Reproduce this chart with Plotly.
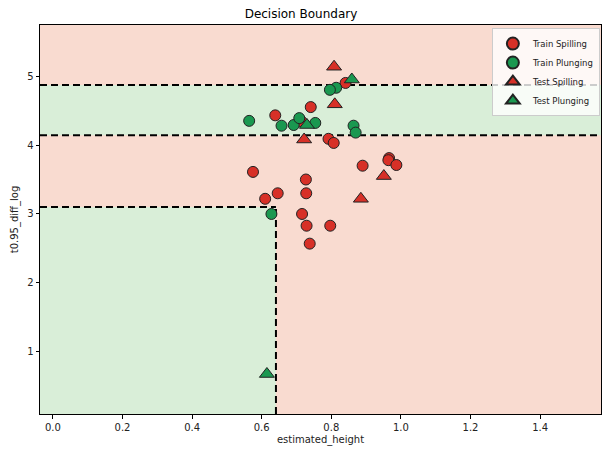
import plotly.graph_objects as go

# Data
train_spill_x = [0.841, 0.741, 0.639, 0.715, 0.792, 0.807, 0.966, 0.964, 0.987, 0.890, 0.575, 0.727, 0.646, 0.728, 0.610, 0.716, 0.729, 0.797, 0.738]
train_spill_y = [4.90, 4.55, 4.43, 4.34, 4.09, 4.03, 3.81, 3.78, 3.71, 3.70, 3.61, 3.50, 3.30, 3.30, 3.22, 3.00, 2.83, 2.83, 2.57]
train_plunge_x = [0.814, 0.796, 0.564, 0.657, 0.692, 0.708, 0.754, 0.864, 0.870, 0.628]
train_plunge_y = [4.83, 4.80, 4.35, 4.28, 4.29, 4.39, 4.32, 4.28, 4.18, 3.00]
test_spill_x = [0.808, 0.810, 0.722, 0.951, 0.885]
test_spill_y = [5.135, 4.59, 4.08, 3.55, 3.22]
test_plunge_x = [0.859, 0.730, 0.615]
test_plunge_y = [4.95, 4.29, 0.68]

# Decision thresholds
y_upper = 4.87
y_mid = 4.14
y_low = 3.10
x_split = 0.641

x_range = [-0.037, 1.575]
y_range = [0.10, 5.74]

RED = "#d73027"
GREEN = "#1a9850"
RED_BG = "#f9dbd0"
GREEN_BG = "#d9eed8"

fig = go.Figure()

shapes = []
# background regions
shapes.append(dict(type="rect", xref="x", yref="y", x0=x_range[0], x1=x_range[1], y0=y_range[0], y1=y_range[1],
                   fillcolor=RED_BG, line_width=0, layer="below"))
shapes.append(dict(type="rect", xref="x", yref="y", x0=x_range[0], x1=x_range[1], y0=y_mid, y1=y_upper,
                   fillcolor=GREEN_BG, line_width=0, layer="below"))
shapes.append(dict(type="rect", xref="x", yref="y", x0=x_range[0], x1=x_split, y0=y_range[0], y1=y_low,
                   fillcolor=GREEN_BG, line_width=0, layer="below"))
# dashed boundaries
dash = dict(color="black", width=2, dash="7px,4px")
shapes.append(dict(type="line", xref="x", yref="y", x0=x_range[0], x1=x_range[1], y0=y_upper, y1=y_upper, line=dash, layer="below"))
shapes.append(dict(type="line", xref="x", yref="y", x0=x_range[0], x1=x_range[1], y0=y_mid, y1=y_mid, line=dash, layer="below"))
shapes.append(dict(type="line", xref="x", yref="y", x0=x_range[0], x1=x_split, y0=y_low, y1=y_low, line=dash, layer="below"))
shapes.append(dict(type="line", xref="x", yref="y", x0=x_split, x1=x_split, y0=y_range[0], y1=y_low, line=dash, layer="below"))

outline = dict(color="#222222", width=1)
fig.add_trace(go.Scatter(x=train_spill_x, y=train_spill_y, mode="markers", name="Train Spilling",
                         marker=dict(symbol="circle", size=11, color=RED, line=outline)))
fig.add_trace(go.Scatter(x=train_plunge_x, y=train_plunge_y, mode="markers", name="Train Plunging",
                         marker=dict(symbol="circle", size=11, color=GREEN, line=outline)))
fig.add_trace(go.Scatter(x=test_spill_x, y=test_spill_y, mode="markers", name="Test Spilling",
                         marker=dict(symbol="triangle-up", size=13, color=RED, line=outline)))
fig.add_trace(go.Scatter(x=test_plunge_x, y=test_plunge_y, mode="markers", name="Test Plunging",
                         marker=dict(symbol="triangle-up", size=13, color=GREEN, line=outline)))

fig.update_layout(
    width=602, height=449,
    margin=dict(l=40, r=1, t=25, b=35, autoexpand=False),
    paper_bgcolor="white", plot_bgcolor="white",
    font=dict(family="DejaVu Sans", size=10, color="#222222"),
    title=dict(text="Decision Boundary", x=0.5, xanchor="center", y=0.969, yanchor="middle",
               font=dict(size=12, color="black")),
    shapes=shapes,
    showlegend=True,
    legend=dict(x=0.998, y=0.992, xanchor="right", yanchor="top",
                bgcolor="rgba(255,255,255,0.8)", bordercolor="#cccccc", borderwidth=1,
                font=dict(size=8.5), itemsizing="constant", tracegroupgap=0, itemwidth=30),
    xaxis=dict(range=x_range, showgrid=False, zeroline=False, showline=True, linecolor="black", linewidth=1,
               mirror=True, ticks="outside", ticklen=3.5, tickcolor="black",
               tickvals=[0.0, 0.2, 0.4, 0.6, 0.8, 1.0, 1.2, 1.4], tickformat=".1f",
               title=dict(text="estimated_height", standoff=4, font=dict(size=10))),
    yaxis=dict(range=y_range, showgrid=False, zeroline=False, showline=True, linecolor="black", linewidth=1,
               mirror=True, ticks="outside", ticklen=3.5, tickcolor="black",
               tickvals=[1, 2, 3, 4, 5],
               title=dict(text="t0.95_diff_log", standoff=6, font=dict(size=10))),
)

fig.write_html("out.html", config={"displayModeBar": False},
               post_script="document.body.style.margin='0';document.body.style.overflow='hidden';")
